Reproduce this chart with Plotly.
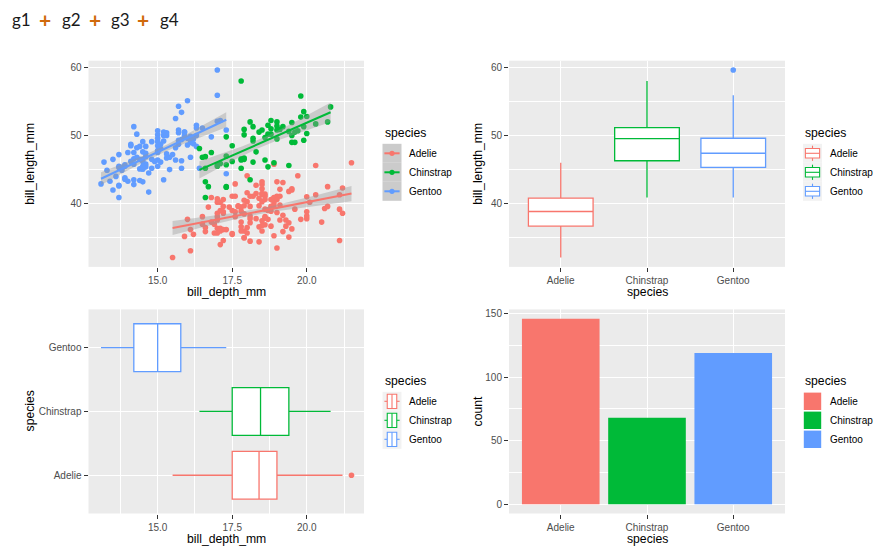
import numpy as np
import plotly.graph_objects as go

W, H = 895, 560
FONT = "Liberation Sans, Arial, sans-serif"

species = ["Adelie", "Chinstrap", "Gentoo"]
species_colors = ["#F8766D", "#00BA38", "#619CFF"]

adelie_bill_length_mm = [
    39.1, 39.5, 40.3, 36.7, 39.3, 38.9, 39.2, 41.1, 38.6, 34.6,
    36.6, 38.7, 42.5, 34.4, 46.0, 37.8, 37.7, 35.9, 38.2, 38.8,
    35.3, 40.6, 40.5, 37.9, 40.5, 39.5, 37.2, 39.5, 40.9, 36.4,
    39.2, 38.8, 42.2, 37.6, 39.8, 36.5, 40.8, 36.0, 44.1, 37.0,
    39.6, 41.1, 36.0, 42.3, 39.6, 40.1, 35.0, 42.0, 34.5, 41.4,
    39.0, 40.6, 36.5, 37.6, 35.7, 41.3, 37.6, 41.1, 36.4, 41.6,
    35.5, 41.1, 35.9, 41.8, 33.5, 39.7, 39.6, 45.8, 35.5, 42.8,
    40.9, 37.2, 36.2, 42.1, 34.6, 42.9, 36.7, 35.1, 37.3, 41.3,
    36.3, 36.9, 38.3, 38.9, 35.7, 41.1, 34.0, 39.6, 36.2, 40.8,
    38.1, 40.3, 33.1, 43.2, 35.0, 41.0, 37.7, 37.8, 37.9, 39.7,
    38.6, 38.2, 38.1, 43.2, 38.1, 45.6, 39.7, 42.2, 39.6, 42.7,
    38.6, 37.3, 35.7, 41.1, 36.2, 37.7, 40.2, 41.4, 35.2, 40.6,
    38.8, 41.5, 39.0, 44.1, 38.5, 43.1, 36.8, 37.5, 38.1, 41.1,
    35.6, 40.2, 37.0, 39.7, 40.2, 40.6, 32.1, 40.7, 37.3, 39.0,
    39.2, 36.6, 36.0, 37.8, 36.0, 41.5]
adelie_bill_depth_mm = [
    18.7, 17.4, 18.0, 19.3, 20.6, 17.8, 19.6, 17.6, 21.2, 21.1,
    17.8, 19.0, 20.7, 18.4, 21.5, 18.3, 18.7, 19.2, 18.1, 17.2,
    18.9, 18.6, 17.9, 18.6, 18.9, 16.7, 18.1, 17.8, 18.9, 17.0,
    21.1, 20.0, 18.5, 19.3, 19.1, 18.0, 18.4, 18.5, 19.7, 16.9,
    18.8, 19.0, 17.9, 21.2, 17.7, 18.9, 17.9, 19.5, 18.1, 18.6,
    17.5, 18.8, 16.6, 19.1, 16.9, 21.1, 17.0, 18.2, 17.1, 18.0,
    16.2, 19.1, 16.6, 19.4, 19.0, 18.4, 17.2, 18.9, 17.5, 18.5,
    16.8, 19.4, 16.1, 19.1, 17.2, 17.6, 18.8, 19.4, 17.8, 20.3,
    19.5, 18.6, 19.2, 18.8, 18.0, 18.1, 17.1, 18.1, 17.3, 18.9,
    18.6, 18.5, 16.1, 18.5, 17.9, 20.0, 16.0, 20.0, 18.6, 18.9,
    17.2, 20.0, 17.0, 19.0, 16.5, 20.3, 17.7, 19.5, 20.7, 18.3,
    17.0, 20.5, 17.0, 18.6, 17.2, 19.8, 17.0, 18.5, 15.9, 19.0,
    17.6, 18.3, 17.1, 18.0, 17.9, 19.2, 18.5, 18.5, 17.6, 17.5,
    17.5, 20.1, 16.5, 17.9, 17.1, 17.2, 15.5, 17.0, 16.8, 18.7,
    18.6, 18.4, 17.8, 18.1, 17.1, 18.5]

gentoo_bill_length_mm = [
    46.1, 50.0, 48.7, 50.0, 47.6, 46.5, 45.4, 46.7, 43.3, 46.8,
    40.9, 49.0, 45.5, 48.4, 45.8, 49.3, 42.0, 49.2, 46.2, 48.7,
    50.2, 45.1, 46.5, 46.3, 42.9, 46.1, 47.8, 48.2, 50.0, 47.3,
    42.8, 45.1, 59.6, 49.1, 48.4, 42.6, 44.4, 44.0, 48.7, 42.7,
    49.6, 45.3, 49.6, 50.5, 43.6, 45.5, 50.5, 44.9, 45.2, 46.6,
    48.5, 45.1, 50.1, 46.5, 45.0, 43.8, 45.5, 43.2, 50.4, 45.3,
    46.2, 45.7, 54.3, 45.8, 49.8, 49.5, 43.5, 50.7, 47.7, 46.4,
    48.2, 46.5, 46.4, 48.6, 47.5, 51.1, 45.2, 45.2, 49.1, 52.5,
    47.4, 50.0, 44.9, 50.8, 43.4, 51.3, 47.5, 52.1, 47.5, 52.2,
    45.5, 49.5, 44.5, 50.8, 49.4, 46.9, 48.4, 51.1, 48.5, 55.9,
    47.2, 49.1, 46.8, 41.7, 53.4, 43.3, 48.1, 50.5, 49.8, 43.5,
    51.5, 46.2, 55.1, 48.8, 47.2, 46.8, 50.4, 45.2, 49.9]
gentoo_bill_depth_mm = [
    13.2, 16.3, 14.1, 15.2, 14.5, 13.5, 14.6, 15.3, 13.4, 15.4,
    13.7, 16.1, 13.7, 14.6, 14.6, 15.7, 13.5, 15.2, 14.5, 15.1,
    14.3, 14.5, 14.5, 15.8, 13.1, 15.1, 15.0, 14.3, 15.3, 15.3,
    14.2, 14.5, 17.0, 14.8, 16.3, 13.7, 17.3, 13.6, 15.7, 13.7,
    16.0, 13.7, 15.0, 15.9, 13.9, 13.9, 15.9, 13.3, 15.8, 14.2,
    14.1, 14.4, 15.0, 14.4, 15.4, 13.9, 15.0, 14.5, 15.3, 13.8,
    14.9, 13.9, 15.7, 14.2, 16.8, 16.2, 14.2, 15.0, 15.0, 15.6,
    15.6, 14.8, 15.0, 16.0, 14.2, 16.3, 13.8, 16.4, 14.5, 15.6,
    14.6, 15.9, 13.8, 17.3, 14.4, 14.2, 14.0, 17.0, 15.0, 17.1,
    14.5, 16.1, 14.7, 15.7, 15.8, 14.6, 14.4, 16.5, 15.0, 17.0,
    15.5, 15.0, 16.1, 14.7, 15.8, 14.0, 15.1, 15.2, 15.9, 15.2,
    16.3, 14.1, 16.0, 16.2, 13.7, 14.3, 15.7, 14.8, 16.1]

chinstrap_bill_length_mm = [
    46.5, 50.0, 51.3, 45.4, 52.7, 45.2, 46.1, 51.3, 46.0, 51.3,
    46.6, 51.7, 47.0, 52.0, 45.9, 50.5, 50.3, 58.0, 46.4, 49.2,
    42.4, 48.5, 43.2, 50.6, 46.7, 52.0, 50.5, 49.5, 46.4, 52.8,
    40.9, 54.2, 42.5, 51.0, 49.7, 47.5, 47.6, 52.0, 46.9, 53.5,
    49.0, 46.2, 50.9, 45.5, 50.9, 50.8, 50.1, 49.0, 51.5, 49.8,
    48.1, 51.4, 45.7, 50.7, 42.5, 52.2, 45.2, 49.3, 50.2, 45.6,
    51.9, 46.8, 45.7, 55.8, 43.5, 49.6, 50.8, 50.2]
chinstrap_bill_depth_mm = [
    17.9, 19.5, 19.2, 18.7, 19.8, 17.8, 18.2, 18.2, 18.9, 19.9,
    17.8, 20.3, 17.3, 18.1, 17.1, 19.6, 20.0, 17.8, 18.6, 18.2,
    17.3, 17.5, 16.6, 19.4, 17.9, 19.0, 18.4, 19.0, 17.8, 20.0,
    16.6, 20.8, 16.7, 18.8, 18.6, 16.8, 18.3, 20.7, 16.6, 19.9,
    19.5, 17.5, 19.1, 17.0, 17.9, 18.5, 17.9, 19.6, 18.7, 17.3,
    16.4, 19.0, 17.3, 19.7, 17.3, 18.8, 16.6, 19.9, 18.8, 19.4,
    19.5, 16.5, 17.0, 19.8, 18.1, 18.2, 19.0, 18.7]

species_counts = [146, 68, 119]

depth_major = [15.0, 17.5, 20.0]
depth_labels = ["15.0", "17.5", "20.0"]
depth_minor = [13.75, 16.25, 18.75, 21.25]
length_major = [40, 50, 60]
length_minor = [35, 45, 55]
count_major = [0, 50, 100, 150]
count_minor = [25, 75, 125]

lengths = {"Adelie": adelie_bill_length_mm, "Chinstrap": chinstrap_bill_length_mm, "Gentoo": gentoo_bill_length_mm}
depths = {"Adelie": adelie_bill_depth_mm, "Chinstrap": chinstrap_bill_depth_mm, "Gentoo": gentoo_bill_depth_mm}
col = dict(zip(species, species_colors))
draw_order = ["Adelie", "Gentoo", "Chinstrap"]  # row order of the data


def px(x):
    return x / W


def py(y):
    return 1 - y / H


def expand(vals, f=0.05):
    lo, hi = min(vals), max(vals)
    d = (hi - lo) * f
    return [lo - d, hi + d]


def t975(df):
    z = 1.959963985
    return (z + (z**3 + z) / (4 * df) + (5 * z**5 + 16 * z**3 + 3 * z) / (96 * df**2)
            + (3 * z**7 + 19 * z**5 + 17 * z**3 - 15 * z) / (384 * df**3))


all_depth = sum(depths.values(), [])
all_length = sum(lengths.values(), [])
depth_range = expand(all_depth)
length_range = expand(all_length)
count_range = expand([0] + species_counts)

# panel domains in pixels
P1 = (88.5, 364.0, 60.7, 266.9)
P2 = (509.0, 785.0, 60.7, 266.9)
P3 = (88.5, 364.0, 309.4, 513.5)
P4 = (509.0, 785.0, 309.4, 513.5)


def dom(p):
    return [px(p[0]), px(p[1])], [py(p[3]), py(p[2])]


fig = go.Figure()

# ---- panel 1: scatter + lm smooth
for sp in draw_order:
    fig.add_trace(go.Scatter(x=depths[sp], y=lengths[sp], mode="markers",
                             marker=dict(color=col[sp], size=5.6, line=dict(width=0)),
                             xaxis="x", yaxis="y", showlegend=False, hoverinfo="skip"))
for sp in species:
    x = np.array(depths[sp])
    y = np.array(lengths[sp])
    n = len(x)
    b, a = np.polyfit(x, y, 1)
    resid = y - (a + b * x)
    s2 = np.sum(resid**2) / (n - 2)
    xs = np.linspace(x.min(), x.max(), 80)
    fit = a + b * xs
    se = np.sqrt(s2 * (1 / n + (xs - x.mean())**2 / np.sum((x - x.mean())**2)))
    tq = t975(n - 2)
    up, lo = fit + tq * se, fit - tq * se
    fig.add_trace(go.Scatter(x=np.concatenate([xs, xs[::-1]]), y=np.concatenate([up, lo[::-1]]),
                             fill="toself", fillcolor="rgba(153,153,153,0.4)", line=dict(width=0),
                             mode="lines", xaxis="x", yaxis="y", showlegend=False, hoverinfo="skip"))
    fig.add_trace(go.Scatter(x=xs, y=fit, mode="lines", line=dict(color=col[sp], width=2),
                             xaxis="x", yaxis="y", showlegend=False, hoverinfo="skip"))

# ---- panel 2: vertical boxplots
for sp in species:
    fig.add_trace(go.Box(x=[sp] * len(lengths[sp]), y=lengths[sp], xaxis="x2", yaxis="y2",
                         fillcolor="white", line=dict(color=col[sp], width=1.3), width=0.75,
                         whiskerwidth=0, boxpoints="outliers", jitter=0, pointpos=0,
                         marker=dict(color=col[sp], size=5.6), showlegend=False, hoverinfo="skip"))

# ---- panel 3: horizontal boxplots
for sp in species:
    fig.add_trace(go.Box(y=[sp] * len(depths[sp]), x=depths[sp], orientation="h", xaxis="x3", yaxis="y3",
                         fillcolor="white", line=dict(color=col[sp], width=1.3), width=0.75,
                         whiskerwidth=0, boxpoints="outliers", jitter=0, pointpos=0,
                         marker=dict(color=col[sp], size=5.6), showlegend=False, hoverinfo="skip"))

# ---- panel 4: bars
fig.add_trace(go.Bar(x=species, y=species_counts, marker=dict(color=species_colors, line=dict(width=0)),
                     width=0.9, xaxis="x4", yaxis="y4", showlegend=False, hoverinfo="skip"))

tickfont = dict(family=FONT, size=10, color="#4d4d4d")
base = dict(showline=False, zeroline=False, ticks="outside", ticklen=4, tickwidth=1, tickcolor="#333333",
            tickfont=tickfont, showgrid=True, gridcolor="white", gridwidth=1.1)


def minor(vals):
    return dict(tickvals=vals, showgrid=True, gridcolor="white", gridwidth=0.55, ticks="")


def num_axis(rng, major, labels, minor_vals, domain, anchor):
    d = dict(base)
    d.update(type="linear", range=rng, tickvals=major, ticktext=labels, minor=minor(minor_vals),
             domain=domain, anchor=anchor)
    return d


def cat_axis(domain, anchor):
    d = dict(base)
    d.update(type="category", range=[-0.6, 2.6], categoryorder="array", categoryarray=species,
             domain=domain, anchor=anchor)
    return d


x1d, y1d = dom(P1)
x2d, y2d = dom(P2)
x3d, y3d = dom(P3)
x4d, y4d = dom(P4)
len_labels = [str(v) for v in length_major]
fig.update_layout(
    xaxis=num_axis(depth_range, depth_major, depth_labels, depth_minor, x1d, "y"),
    yaxis=num_axis(length_range, length_major, len_labels, length_minor, y1d, "x"),
    xaxis2=cat_axis(x2d, "y2"),
    yaxis2=num_axis(length_range, length_major, len_labels, length_minor, y2d, "x2"),
    xaxis3=num_axis(depth_range, depth_major, depth_labels, depth_minor, x3d, "y3"),
    yaxis3=cat_axis(y3d, "x3"),
    xaxis4=cat_axis(x4d, "y4"),
    yaxis4=num_axis(count_range, count_major, [str(v) for v in count_major], count_minor, y4d, "x4"),
)

annotations = []
shapes = []


def text(x, y, s, size, color="black", xanchor="center", yanchor="middle", angle=0, family=FONT):
    annotations.append(dict(x=px(x), y=py(y), xref="paper", yref="paper", text=s, showarrow=False,
                            xanchor=xanchor, yanchor=yanchor, textangle=angle,
                            font=dict(family=family, size=size, color=color)))


# axis titles
text((P1[0] + P1[1]) / 2, 291.5, "bill_depth_mm", 12.2)
text(30, (P1[2] + P1[3]) / 2, "bill_length_mm", 12.2, angle=-90)
text((P2[0] + P2[1]) / 2, 291.5, "species", 12.2)
text(478, (P2[2] + P2[3]) / 2, "bill_length_mm", 12.2, angle=-90)
text((P3[0] + P3[1]) / 2, 539, "bill_depth_mm", 12.2)
text(30, (P3[2] + P3[3]) / 2, "species", 12.2, angle=-90)
text((P4[0] + P4[1]) / 2, 539, "species", 12.2)
text(478, (P4[2] + P4[3]) / 2, "count", 12.2, angle=-90)

# top caption
PLUS = "#d06a0c"
text(10, 20, "g1", 17, color="#1a1a1a", xanchor="left", family="Lato")
text(45, 20, "<b>+</b>", 21, color=PLUS, family="Lato")
text(60, 20, "g2", 17, color="#1a1a1a", xanchor="left", family="Lato")
text(95, 20, "<b>+</b>", 21, color=PLUS, family="Lato")
text(109, 20, "g3", 17, color="#1a1a1a", xanchor="left", family="Lato")
text(143, 20, "<b>+</b>", 21, color=PLUS, family="Lato")
text(158, 20, "g4", 17, color="#1a1a1a", xanchor="left", family="Lato")


def rect(x0, y0, x1, y1, fill, line=None, lw=0):
    shapes.append(dict(type="rect", xref="paper", yref="paper", x0=px(x0), x1=px(x1), y0=py(y1), y1=py(y0),
                       fillcolor=fill, line=dict(color=line or fill, width=lw), layer="above"))


def seg(x0, y0, x1, y1, color, lw):
    shapes.append(dict(type="line", xref="paper", yref="paper", x0=px(x0), x1=px(x1), y0=py(y0), y1=py(y1),
                       line=dict(color=color, width=lw), layer="above"))


def dot(cx, cy, r, color):
    shapes.append(dict(type="circle", xref="paper", yref="paper", x0=px(cx - r), x1=px(cx + r),
                       y0=py(cy + r), y1=py(cy - r), fillcolor=color, line=dict(width=0), layer="above"))


KEY = 19.0
KEYBG = "#f2f2f2"


def legend(x0, ytitle, kind):
    text(x0, ytitle, "species", 12.2, xanchor="left")
    ytop = ytitle + 10.8
    for i, sp in enumerate(species):
        ky = ytop + i * KEY
        c = col[sp]
        if kind == "smooth":
            rect(x0, ky, x0 + KEY, ky + KEY, "#cbcbcb")
            seg(x0 + 0.1 * KEY, ky + KEY / 2, x0 + 0.9 * KEY, ky + KEY / 2, c, 2)
            dot(x0 + KEY / 2, ky + KEY / 2, 2.6, c)
        elif kind == "vbox":
            rect(x0, ky, x0 + KEY, ky + KEY, KEYBG)
            cx = x0 + KEY / 2
            seg(cx, ky + 0.1 * KEY, cx, ky + 0.25 * KEY, c, 1.1)
            seg(cx, ky + 0.75 * KEY, cx, ky + 0.9 * KEY, c, 1.1)
            rect(x0 + 0.125 * KEY, ky + 0.25 * KEY, x0 + 0.875 * KEY, ky + 0.75 * KEY, "white", c, 1.1)
            seg(x0 + 0.125 * KEY, ky + KEY / 2, x0 + 0.875 * KEY, ky + KEY / 2, c, 1.1)
        elif kind == "hbox":
            rect(x0, ky, x0 + KEY, ky + KEY, KEYBG)
            cy = ky + KEY / 2
            seg(x0 + 0.1 * KEY, cy, x0 + 0.25 * KEY, cy, c, 1.1)
            seg(x0 + 0.75 * KEY, cy, x0 + 0.9 * KEY, cy, c, 1.1)
            rect(x0 + 0.25 * KEY, ky + 0.125 * KEY, x0 + 0.75 * KEY, ky + 0.875 * KEY, "white", c, 1.1)
            seg(x0 + KEY / 2, ky + 0.125 * KEY, x0 + KEY / 2, ky + 0.875 * KEY, c, 1.1)
        else:
            rect(x0 + 0.8, ky + 0.8, x0 + KEY - 0.8, ky + KEY - 0.8, c)
        text(x0 + 24.5, ky + KEY / 2, sp, 10, color="black", xanchor="left")


legend(382.5, 133, "smooth")
legend(803.0, 133, "vbox")
legend(382.5, 381, "hbox")
legend(803.0, 381, "fill")

fig.update_layout(
    width=W, height=H, margin=dict(l=0, r=0, t=0, b=0),
    paper_bgcolor="white", plot_bgcolor="#ebebeb",
    showlegend=False, annotations=annotations, shapes=shapes,
    font=dict(family=FONT),
)

fig.write_html("out.html")
